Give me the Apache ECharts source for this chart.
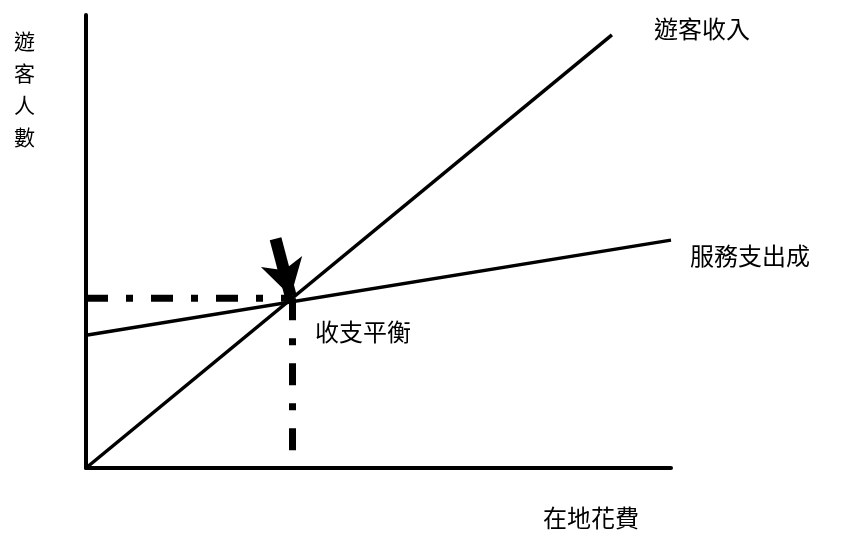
<!DOCTYPE html>
<html>
<head>
<meta charset="utf-8">
<script src="https://cdn.jsdelivr.net/npm/echarts@6/dist/echarts.min.js"></script>
<style>
  html, body { margin: 0; padding: 0; background: #fff; }
  #main { width: 849px; height: 533px; }
</style>
</head>
<body>
<div id="main"></div>
<script>
// 數據（0~100 的相對刻度）
const incomeLine = [[0, 0], [89.9, 95.6]]        // 遊客收入
const costLine = [[0, 29.3], [100, 50.3]]        // 服務支出成
const balanceH = [[0, 37.5], [35.3, 37.5]]       // 收支平衡 水平虛線
const balanceV = [[35.3, 37.5], [35.3, 3.3]]     // 收支平衡 垂直虛線
const arrowFrom = [32.4, 50.6]
const arrowTo = [35.0, 37.9]

const fontCJK = '"Noto Sans CJK TC", "Noto Sans CJK SC", sans-serif'

const chartDom = document.getElementById('main')
const myChart = echarts.init(chartDom, null, { renderer: 'canvas' })

const axisCommon = {
  type: 'value',
  min: 0,
  max: 100,
  axisLine: { show: true, lineStyle: { color: '#000', width: 4 } },
  axisTick: { show: false },
  axisLabel: { show: false },
  splitLine: { show: false }
}

const dashStyle = {
  color: '#000',
  width: 7,
  type: [22, 18, 7, 18],
  cap: 'butt'
}

const option = {
  animation: false,
  backgroundColor: '#fff',
  grid: { left: 86, right: 178, top: 15, bottom: 65 },
  xAxis: axisCommon,
  yAxis: axisCommon,
  series: [
    {
      name: '遊客收入',
      type: 'line',
      data: incomeLine,
      symbol: 'none',
      clip: false,
      lineStyle: { color: '#000', width: 3.5 }
    },
    {
      name: '服務支出成',
      type: 'line',
      data: costLine,
      symbol: 'none',
      clip: false,
      lineStyle: { color: '#000', width: 3.5 }
    },
    {
      type: 'line',
      data: balanceH,
      symbol: 'none',
      clip: false,
      lineStyle: dashStyle
    },
    {
      type: 'line',
      data: balanceV,
      symbol: 'none',
      clip: false,
      lineStyle: dashStyle,
      markLine: {
        silent: true,
        symbol: ['none', 'arrow'],
        symbolSize: [32, 36],
        label: { show: false },
        lineStyle: { color: '#000', width: 12, type: 'solid' },
        data: [[{ coord: arrowFrom }, { coord: arrowTo }]]
      }
    }
  ],
  graphic: [
    {
      type: 'text', left: 14, top: 25,
      style: { text: '遊\n客\n人\n數', font: '21px ' + fontCJK, fill: '#000', lineHeight: 32 }
    },
    {
      type: 'text', left: 543, top: 506,
      style: { text: '在地花費', font: '24px ' + fontCJK, fill: '#000' }
    },
    {
      type: 'text', left: 654, top: 17,
      style: { text: '遊客收入', font: '24px ' + fontCJK, fill: '#000' }
    },
    {
      type: 'text', left: 690, top: 244,
      style: { text: '服務支出成', font: '24px ' + fontCJK, fill: '#000' }
    },
    {
      type: 'text', left: 315, top: 320,
      style: { text: '收支平衡', font: '24px ' + fontCJK, fill: '#000' }
    }
  ]
}

option && myChart.setOption(option)
</script>
</body>
</html>
